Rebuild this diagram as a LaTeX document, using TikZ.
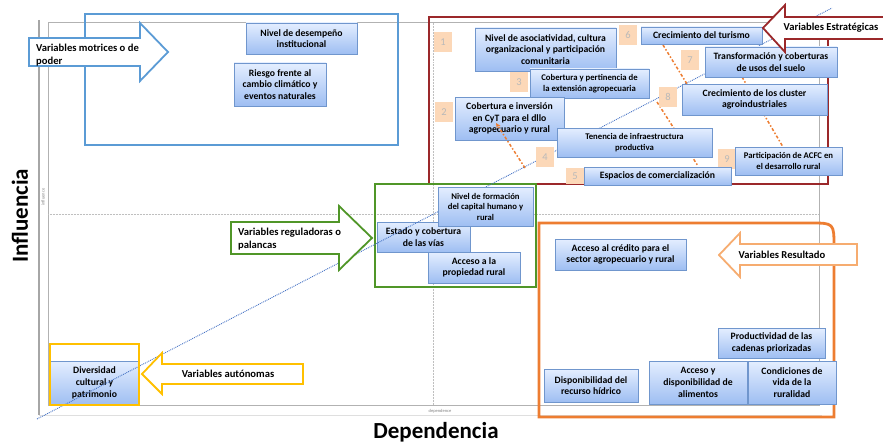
\documentclass[tikz,border=0pt]{standalone}
\usepackage{fontspec}
\setmainfont{Carlito}
\definecolor{varTop}{RGB}{228,238,255}
\definecolor{varBottom}{RGB}{158,190,242}
\definecolor{varEdge}{RGB}{112,150,205}
\definecolor{tagFill}{RGB}{252,216,184}
\definecolor{blueBox}{RGB}{91,155,213}
\definecolor{redBox}{RGB}{155,40,42}
\definecolor{greenBox}{RGB}{80,150,40}
\definecolor{yellowBox}{RGB}{255,192,0}
\definecolor{orangeBox}{RGB}{237,125,49}
\definecolor{orangeLight}{RGB}{246,172,112}
\definecolor{diagBlue}{RGB}{68,114,196}
\usetikzlibrary{arrows.meta,shadows,positioning}

\begin{document}
\begin{tikzpicture}[x=1pt,y=-1pt,
  var/.style={rectangle, draw=varEdge, line width=0.6pt, top color=varTop, bottom color=varBottom,
              drop shadow={shadow xshift=1.2pt,shadow yshift=-1.2pt,opacity=0.3},
              align=center, inner sep=1pt, font=\bfseries\fontsize{9.7}{11.7}\selectfont},
  vsmall/.style={font=\bfseries\fontsize{8.7}{10.5}\selectfont},
  tag/.style={fill=tagFill, minimum width=18pt, minimum height=20pt, inner sep=0pt,
              text=gray!55, font=\fontsize{10.5}{12}\selectfont},
  arrowtext/.style={font=\bfseries\fontsize{10.6}{13.5}\selectfont, align=left, inner sep=0pt},
  frame/.style={line width=2.8pt},
  fatarrow/.style={fill=white, line width=1.8pt, line join=miter},
  link/.style={draw=orangeBox, line width=1.5pt, dash dot},
  axislabel/.style={font=\bfseries\fontsize{23}{25}\selectfont}]
\useasboundingbox (0,0) rectangle (883,444);
\clip (0,0) rectangle (883,444);

% plot area
\draw[gray!60, line width=1pt] (48,23) rectangle (819,405);
\draw[gray!70, line width=2.4pt] (39,20) -- (39,415);
\draw[gray!25, line width=0.8pt] (39,415) -- (822,415);
\draw[gray!50, densely dotted, line width=0.5pt] (433,23) -- (433,405);
\draw[gray!50, densely dotted, line width=0.5pt] (48,214) -- (819,214);
\node[gray, font=\fontsize{4.5}{5}\selectfont] (dep) at (440,411) {dependence};
\node[gray, rotate=90, font=\fontsize{4.5}{5}\selectfont] (inf) at (43,197) {influence};
\node[axislabel, rotate=90] (yaxis) at (20,216) {Influencia};
\node[axislabel] (xaxis) at (436,432) {Dependencia};

% quadrant frames
\draw[frame, blueBox] (85,14) rectangle (398,145);
\draw[frame, redBox] (429,17) rectangle (828,184);
\draw[frame, greenBox] (375,184) rectangle (536,287);
\draw[frame, orangeBox] (539,417) -- (539,223) -- (810,223) .. controls (834,223) .. (834,247) -- (834,417) -- cycle;

% nodes under the diagonal
\node[var, minimum width=89pt, minimum height=44pt] (diver) at (94.5,383) {Diversidad\\cultural y\\patrimonio};
\node[var, minimum width=93pt, minimum height=30pt] (vias) at (423.5,237) {Estado y cobertura\\de las vías};

% diagonal and links
\coordinate (dstart) at (37,419);
\coordinate (dend) at (832,8);
\draw[diagBlue, densely dotted, line width=0.9pt] (dstart) -- (dend);
\coordinate (l1a) at (496,123); \coordinate (l1b) at (525,168);
\coordinate (l2a) at (663,45);  \coordinate (l2b) at (687,84);
\coordinate (l3a) at (657,102); \coordinate (l3b) at (698,166);
\coordinate (l4a) at (742,77);  \coordinate (l4b) at (783,147);
\draw[link] (l2a) -- (l2b);
\draw[link] (l3a) -- (l3b);
\draw[link] (l4a) -- (l4b);

% number tags
\node[tag] (t1) at (443,42) {1};
\node[tag] (t6) at (628,35) {6};
\node[tag] (t7) at (690,60) {7};
\node[tag] (t3) at (519,82) {3};
\node[tag] (t8) at (668,97) {8};
\node[tag] (t2) at (444,112) {2};
\node[tag] (t4) at (545,157) {4};
\node[tag] (t9) at (727,159) {9};
\node[tag, minimum height=16pt] (t5) at (575,176) {5};

% motrices
\node[var, minimum width=111pt, minimum height=31pt] (desem) at (301.5,38.5) {Nivel de desempeño\\institucional};
\node[var, minimum width=92pt, minimum height=43pt] (riesgo) at (280,84.5) {Riesgo frente al\\cambio climático y\\eventos naturales};

% estrategicas
\node[var, minimum width=141pt, minimum height=43pt] (asoc) at (545.5,49.5) {Nivel de asociatividad, cultura\\organizacional y participación\\comunitaria};
\node[var, minimum width=121pt, minimum height=17pt] (turismo) at (701.5,35.5) {Crecimiento del turismo};
\node[var, minimum width=132pt, minimum height=30pt] (transf) at (771,62) {Transformación y coberturas\\de usos del suelo};
\node[var, vsmall, minimum width=119pt, minimum height=29pt] (extens) at (589.5,83.5) {Cobertura y pertinencia de\\la extensión agropecuaria};
\node[var, minimum width=145pt, minimum height=31pt] (cluster) at (754.5,99.5) {Crecimiento de los cluster\\agroindustriales};
\node[var, minimum width=109pt, minimum height=43pt] (cyt) at (509.5,118.5) {Cobertura e inversión\\en CyT para el dllo\\agropecuario y rural};
\draw[link, -{Stealth[length=5pt,width=4.5pt]}] (l1b) -- (l1a);
\node[var, vsmall, minimum width=155pt, minimum height=29pt] (tenencia) at (634.5,142.5) {Tenencia de infraestructura\\productiva};
\node[var, vsmall, minimum width=107pt, minimum height=28pt] (acfc) at (788.5,161) {Participación de ACFC en\\el desarrollo rural};
\node[var, minimum width=147pt, minimum height=18pt] (espacios) at (657.5,176) {Espacios de comercialización};

% reguladoras
\node[var, vsmall, minimum width=95pt, minimum height=39pt] (formac) at (485.5,206.5) {Nivel de formación\\del capital humano y\\rural};
\node[var, minimum width=92pt, minimum height=31pt] (propie) at (474,267.5) {Acceso a la\\propiedad rural};

% resultado
\node[var, minimum width=131pt, minimum height=31pt] (credito) at (620.5,254.5) {Acceso al crédito para el\\sector agropecuario y rural};
\node[var, minimum width=107pt, minimum height=30pt] (product) at (771.5,343) {Productividad de las\\cadenas priorizadas};
\node[var, minimum width=94pt, minimum height=33pt] (hidrico) at (591,385.5) {Disponibilidad del\\recurso hídrico};
\node[var, minimum width=98pt, minimum height=43pt] (alimen) at (698,382.5) {Acceso y\\disponibilidad de\\alimentos};
\node[var, minimum width=88pt, minimum height=43pt] (condic) at (792,382.5) {Condiciones de\\vida de la\\ruralidad};

\draw[frame, yellowBox] (50,344) rectangle (139,405);

% quadrant arrows
\draw[fatarrow, draw=blueBox] (29,38) -- (140,38) -- (140,23) -- (168,52) -- (140,81) -- (140,66) -- (29,66) -- cycle;
\node[arrowtext, anchor=west] (motri) at (36,55) {Variables motrices o de\\poder};
\draw[fatarrow, draw=redBox] (900,17) -- (785,17) -- (785,5) -- (763,28) -- (785,52) -- (785,39) -- (900,39) -- cycle;
\node[arrowtext] (estra) at (831,28) {Variables Estratégicas};
\draw[fatarrow, draw=greenBox] (231,222) -- (339,222) -- (339,206) -- (372,238) -- (339,270) -- (339,254) -- (231,254) -- cycle;
\node[arrowtext, anchor=west] (regul) at (238,239) {Variables reguladoras o\\palancas};
\draw[fatarrow, draw=orangeLight] (857,244) -- (740,244) -- (740,233) -- (719,255) -- (740,277) -- (740,265) -- (857,265) -- cycle;
\node[arrowtext] (result) at (782,255) {Variables Resultado};
\draw[fatarrow, draw=yellowBox] (303,364) -- (162,364) -- (162,353) -- (142,374) -- (162,394) -- (162,384) -- (303,384) -- cycle;
\node[arrowtext] (auton) at (228,374) {Variables autónomas};
\end{tikzpicture}
\end{document}
